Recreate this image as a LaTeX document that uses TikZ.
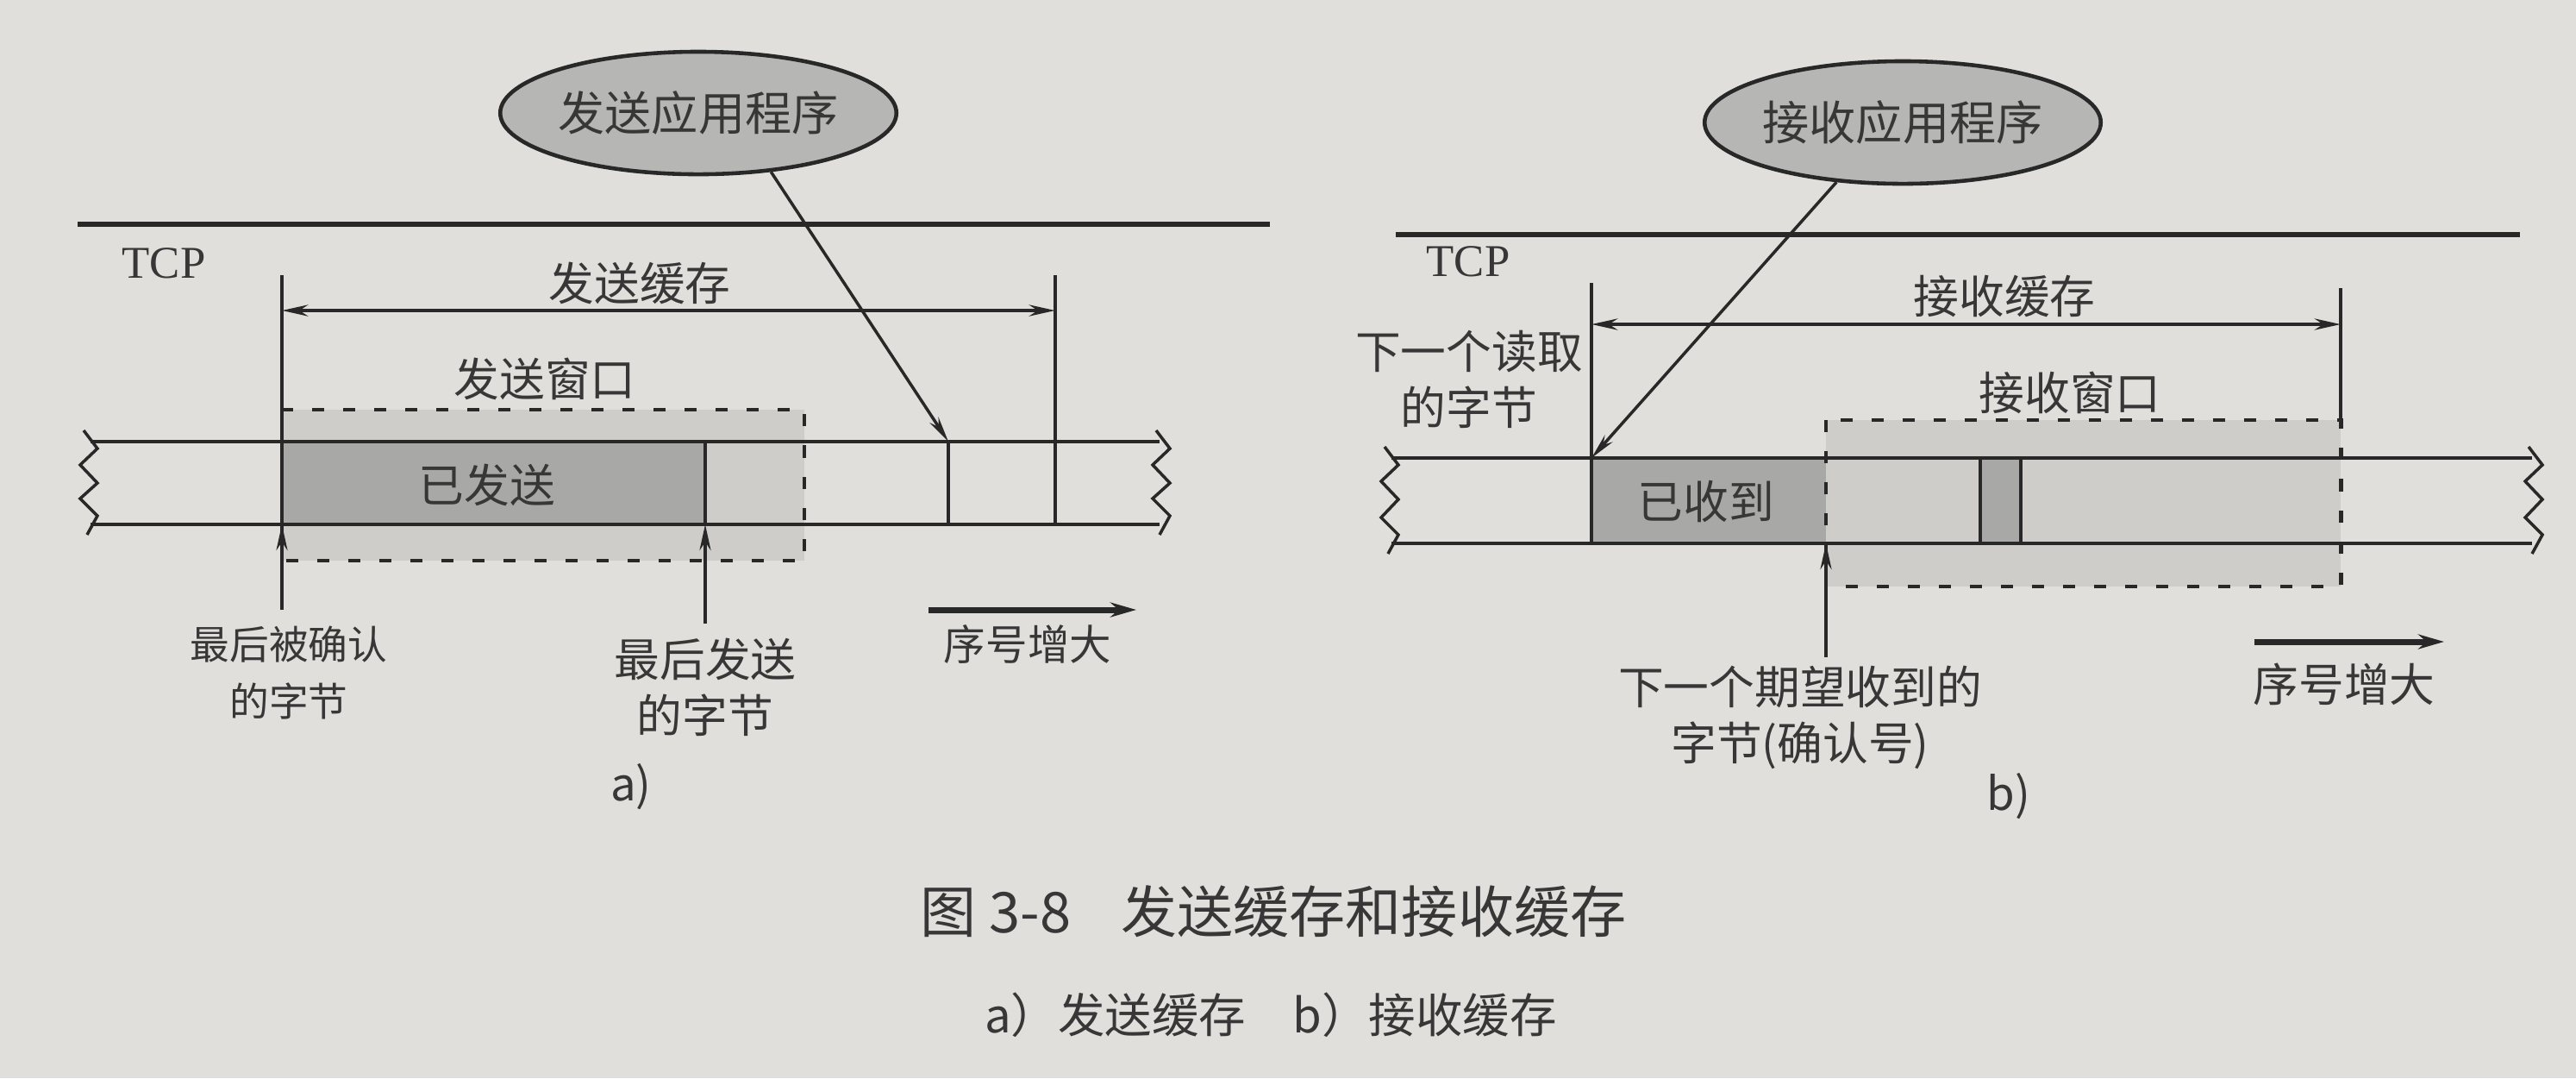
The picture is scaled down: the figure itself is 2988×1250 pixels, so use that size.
\documentclass[tikz,border=0pt]{standalone}
\usepackage{fontspec}
\setmainfont{Liberation Serif}
\newfontfamily\cjk{Noto Sans CJK SC}
\usetikzlibrary{shapes.geometric,arrows.meta}
\definecolor{paper}{RGB}{225,223,219}
\definecolor{ink}{RGB}{40,40,40}
\definecolor{txt}{RGB}{55,55,55}
\definecolor{wingray}{RGB}{207,205,201}
\definecolor{blockgray}{RGB}{168,168,166}
\definecolor{appgray}{RGB}{182,182,180}
\newcommand\tapecut[3]{%
  \draw[zigline] (#1-6,#2-13) -- (#1+10,#2+8) -- (#1-10,#2+27) -- (#1+10,#2+48)
     -- (#1-10,#3-30) -- (#1+10,#3-10) -- (#1-2,#3+12);}
\tikzset{
  tapeline/.style={draw=ink, line width=1.4pt},
  topline/.style={draw=ink, line width=1.7pt},
  vline/.style={draw=ink, line width=1.1pt},
  zigline/.style={draw=ink, line width=1.0pt, line join=miter},
  winbox/.style={draw=ink, line width=1.4pt, dash pattern=on 0.14cm off 0.22cm},
  ptr/.style={draw=ink, line width=1.0pt, -{Stealth[length=0.3cm,width=0.12cm]}},
  uparrow/.style={draw=ink, line width=1.1pt, -{Stealth[length=0.3cm,width=0.13cm]}},
  spanarrow/.style={draw=ink, line width=1.3pt, {Stealth[length=0.3cm,width=0.13cm]}-{Stealth[length=0.3cm,width=0.13cm]}},
  seqarrow/.style={draw=ink, line width=2.0pt, -{Stealth[length=0.3cm,width=0.17cm]}},
  lbl/.style={font=\cjk\fontsize{15}{18.6}\selectfont, text=txt, inner sep=0pt, align=center},
  smalllbl/.style={font=\cjk\fontsize{13}{18.6}\selectfont, text=txt, inner sep=0pt, align=center},
  tcplbl/.style={font=\fontsize{15}{18}\selectfont, text=txt, inner sep=0pt},
  app/.style={ellipse, draw=ink, line width=1.3pt, fill=appgray, minimum width=4.55cm,
    minimum height=1.42cm, inner sep=0pt, text=txt, font=\cjk\fontsize{15.4}{18}\selectfont},
}
\begin{document}
\begin{tikzpicture}[x=0.01cm,y=-0.01cm]
\fill[paper] (0,0) rectangle (2988,1250);
\useasboundingbox (0,0) rectangle (2988,1250);

% ================= a) send buffer =================
\fill[wingray] (327,475) rectangle (933,650);
\fill[blockgray] (327,512) rectangle (818,608);
\draw[tapeline] (105,512) -- (1345,512);
\draw[tapeline] (105,608) -- (1345,608);
\tapecut{103}{512}{608}
\tapecut{1347}{512}{608}
\draw[topline] (90,260) -- (1473,260);
\node[tcplbl] (tcpA) at (190,305) {TCP};

\node[app] (appA) at (810,131) {发送应用程序};

\coordinate (bufAL) at (327,319);
\coordinate (bufAR) at (1224,319);
\coordinate (spanAL) at (327,360);
\coordinate (spanAR) at (1224,360);
\draw[vline] (bufAL) -- (327,707);
\draw[vline] (bufAR) -- (1224,608);
\draw[spanarrow] (spanAL) -- (spanAR);
\node[lbl] (sendbuf) at (742,328) {发送缓存};

\draw[winbox] (327,475) rectangle (933,650);
\node[lbl] (sendwin) at (632,439) {发送窗口};

\draw[vline] (818,512) -- (818,608);
\draw[vline] (1100,512) -- (1100,608);
\node[lbl] (sent) at (565,562) {已发送};

\coordinate (writeA) at (1100,512);
\draw[ptr] (appA.-39) -- (writeA);

\coordinate (ackFoot) at (327,707);
\coordinate (ackTip) at (327,608);
\draw[uparrow] (ackFoot) -- (ackTip);
\coordinate (lastFoot) at (818,723);
\coordinate (lastTip) at (818,608);
\draw[uparrow] (lastFoot) -- (lastTip);

\node[smalllbl] (lastack) at (335,780) {最后被确认\\的字节};
\node[lbl] (lastsent) at (818,797) {最后发送\\的字节};

\coordinate (seqAs) at (1077,707);
\coordinate (seqAe) at (1318,707);
\draw[seqarrow] (seqAs) -- (seqAe);
\node[font=\cjk\fontsize{13.8}{18}\selectfont, text=txt, inner sep=0pt] (seqA) at (1192,747) {序号增大};
\node[lbl] (labA) at (732,912) {a)};

% ================= b) receive buffer =================
\fill[wingray] (2118,487) rectangle (2715,680);
\fill[blockgray] (1846,531) rectangle (2118,630);
\fill[blockgray] (2297,531) rectangle (2344,630);
\draw[tapeline] (1614,531) -- (2937,531);
\draw[tapeline] (1614,630) -- (2937,630);
\tapecut{1612}{531}{630}
\tapecut{2939}{531}{630}
\draw[topline] (1619,272) -- (2923,272);
\node[tcplbl] (tcpB) at (1703,303) {TCP};

\node[app] (appB) at (2207,142) {接收应用程序};

\coordinate (bufBL) at (1846,328);
\coordinate (bufBR) at (2715,334);
\coordinate (spanBL) at (1846,376);
\coordinate (spanBR) at (2715,376);
\draw[vline] (bufBL) -- (1846,630);
\draw[vline] (bufBR) -- (2715,487);
\draw[spanarrow] (spanBL) -- (spanBR);
\node[lbl] (recvbuf) at (2325,344) {接收缓存};

\draw[winbox] (2118,487) rectangle (2715,680);
\node[lbl] (recvwin) at (2401,455) {接收窗口};

\draw[vline] (2297,531) -- (2297,630);
\draw[vline] (2344,531) -- (2344,630);
\node[lbl] (recvd) at (1979,581) {已收到};

\coordinate (readB) at (1846,531);
\draw[ptr] (appB.-138) -- (readB);
\node[lbl] (nextread) at (1704,440) {下一个读取\\的字节};

\coordinate (expFoot) at (2118,762);
\coordinate (expTip) at (2118,630);
\draw[uparrow] (expFoot) -- (expTip);
\node[lbl] (nextexp) at (2088,832) {下一个期望收到的\\字节(确认号)};

\coordinate (seqBs) at (2615,744);
\coordinate (seqBe) at (2835,744);
\draw[seqarrow] (seqBs) -- (seqBe);
\node[lbl] (seqB) at (2719,793) {序号增大};
\node[lbl] (labB) at (2330,923) {b)};

% ================= caption =================
\node[font=\cjk\fontsize{18.5}{22}\selectfont, text=txt, inner sep=0pt] (cap) at (1477,1057)
  {图 3-8\hspace{0.9em}发送缓存和接收缓存};
\node[font=\cjk\fontsize{15.5}{19}\selectfont, text=txt, inner sep=0pt] (subcap) at (1474,1177)
  {a）发送缓存　b）接收缓存};
\end{tikzpicture}
\end{document}
